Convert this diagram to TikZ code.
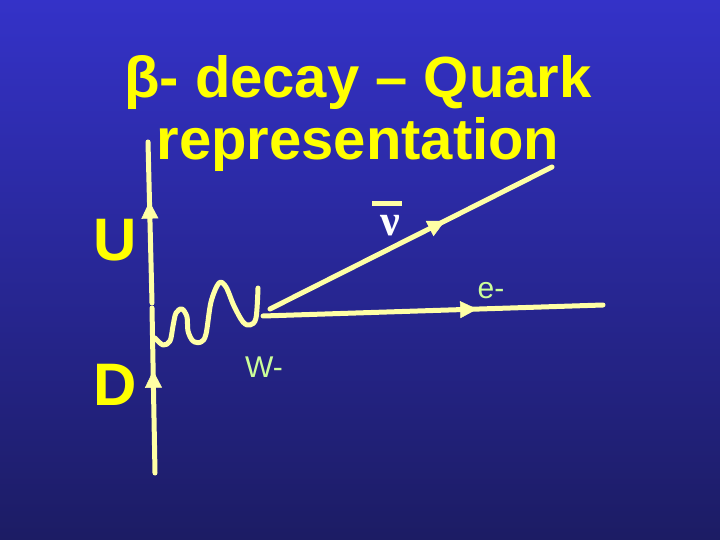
\documentclass[tikz,border=0pt]{standalone}
\usepackage{fontspec}
\setmainfont{Liberation Sans}
\newfontfamily\nufont{Liberation Serif}
\usetikzlibrary{arrows.meta,decorations.markings}
\definecolor{bgtop}{RGB}{52,50,200}
\definecolor{bgbot}{RGB}{28,28,100}
\definecolor{ln}{RGB}{255,255,165}
\definecolor{ttl}{RGB}{255,255,0}
\definecolor{lbl}{RGB}{204,255,153}
\begin{document}
\begin{tikzpicture}[x=1pt,y=-1pt,
  fline/.style={draw=ln,line width=5pt,line cap=round,line join=round},
  midarrow/.style={postaction={decorate},decoration={markings,
     mark=at position #1 with {\arrow[ln]{Triangle[length=17pt,width=17pt,line width=0.5pt]}}}},
  titletext/.style={text=ttl,font=\fontsize{58}{62}\selectfont\bfseries,anchor=base,inner sep=0pt},
  quarktext/.style={text=ttl,font=\fontsize{60}{66}\selectfont\bfseries,anchor=base,inner sep=0pt},
  smalltext/.style={text=lbl,font=\fontsize{30}{34}\selectfont,anchor=base,inner sep=0pt}]
\shade[top color=bgtop,bottom color=bgbot] (0,0) rectangle (720,540);
\useasboundingbox (0,0) rectangle (720,540);

% title
\node[titletext] (t1) at (358,98) {β- decay – Quark};
\node[titletext] (t2) at (358,160) {representation};

% quark labels
\node[quarktext] (U) at (115,260) {U};
\node[quarktext] (D) at (115,405) {D};

% coordinates
\coordinate (uqb) at (152,303);
\coordinate (uqt) at (148,142);
\coordinate (dqb) at (155,473);
\coordinate (dqt) at (152,308);
\coordinate (vn) at (270,309);
\coordinate (nue) at (552,167);
\coordinate (ve) at (263,316);
\coordinate (ee) at (603,305);

% quark lines
\draw[fline,midarrow=0.63] (uqb) -- (uqt);
\draw[fline,midarrow=0.62] (dqb) -- (dqt);

% lepton lines
\draw[fline,midarrow=0.62] (vn) -- (nue);
\draw[fline,midarrow=0.63] (ve) -- (ee);

% W boson
\coordinate (ws) at (155,338);
\draw[fline] plot[smooth,tension=0.55] coordinates {
  (ws) (163,345) (170,341) (173,326) (176,313) (182,309) (187,317)
  (188,331) (193,341) (201,342) (206,334) (211,302) (219,283) (226,287)
  (234,306) (243,322) (250,325) (256,318) (258,288)};

% labels
\draw[ln,line width=5pt] (372,204) -- (402,204);
\node[text=white,font=\fontsize{44}{46}\selectfont\nufont\bfseries,anchor=base,inner sep=0pt] (nu) at (390,236) {ν};
\node[smalltext] (elbl) at (491,298) {e-};
\node[smalltext] (wlbl) at (264,377) {W-};
\end{tikzpicture}
\end{document}
